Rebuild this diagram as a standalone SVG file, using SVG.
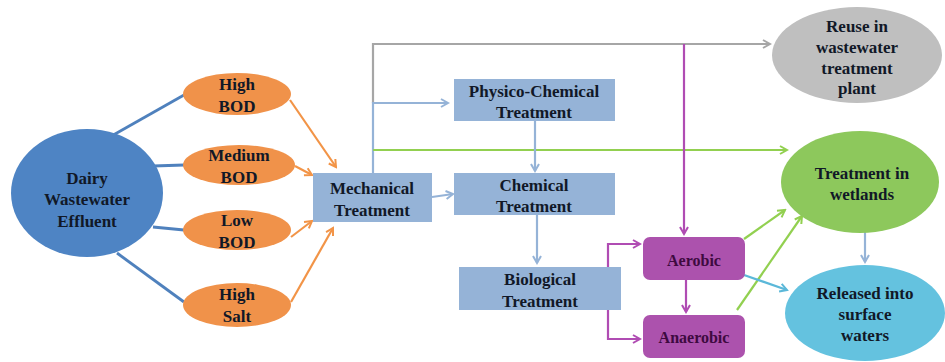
<svg xmlns="http://www.w3.org/2000/svg" width="945" height="362" viewBox="0 0 945 362">
<style>
text{font-family:"Liberation Serif","Times New Roman",serif;font-weight:bold;font-size:17px;fill:#111827;text-anchor:middle}
.c{fill:none;stroke-width:2.2}
.db{stroke:#4F81BD;stroke-width:2.8}
.or{stroke:#F29447}
.lb{stroke:#95B3D7}
.gr{stroke:#A6A6A6}
.gn{stroke:#92D050}
.pu{stroke:#B04CB3}
.cy{stroke:#5BB8D9}
.rect{fill:#95B3D7}
.prp{fill:#AC52AD}
.pt{fill:#3E0A40;font-size:16px}
</style>
<defs>
<marker id="mo" markerWidth="10" markerHeight="10" refX="8" refY="5" orient="auto" markerUnits="userSpaceOnUse"><polyline points="1,1 8,5 1,9" fill="none" stroke="#F29447" stroke-width="2"/></marker>
<marker id="mb" markerWidth="10" markerHeight="10" refX="8" refY="5" orient="auto" markerUnits="userSpaceOnUse"><polyline points="1,1 8,5 1,9" fill="none" stroke="#95B3D7" stroke-width="2"/></marker>
<marker id="mg" markerWidth="10" markerHeight="10" refX="8" refY="5" orient="auto" markerUnits="userSpaceOnUse"><polyline points="1,1 8,5 1,9" fill="none" stroke="#A6A6A6" stroke-width="2"/></marker>
<marker id="mn" markerWidth="10" markerHeight="10" refX="8" refY="5" orient="auto" markerUnits="userSpaceOnUse"><polyline points="1,1 8,5 1,9" fill="none" stroke="#92D050" stroke-width="2"/></marker>
<marker id="mp" markerWidth="10" markerHeight="10" refX="8" refY="5" orient="auto" markerUnits="userSpaceOnUse"><polyline points="1,1 8,5 1,9" fill="none" stroke="#B04CB3" stroke-width="2"/></marker>
<marker id="mc" markerWidth="10" markerHeight="10" refX="8" refY="5" orient="auto" markerUnits="userSpaceOnUse"><polyline points="1,1 8,5 1,9" fill="none" stroke="#5BB8D9" stroke-width="2"/></marker>
</defs>
<rect width="945" height="362" fill="#ffffff"/>
<g id="connectors">
<line class="c db" x1="108" y1="138" x2="184" y2="95"/>
<line class="c db" x1="153" y1="166" x2="184" y2="165"/>
<line class="c db" x1="153" y1="227" x2="184" y2="230"/>
<line class="c db" x1="117" y1="253" x2="184" y2="302"/>
<line class="c or" x1="290" y1="100" x2="336" y2="167" marker-end="url(#mo)"/>
<line class="c or" x1="295" y1="166" x2="312" y2="175" marker-end="url(#mo)"/>
<line class="c or" x1="291" y1="237" x2="312" y2="221" marker-end="url(#mo)"/>
<line class="c or" x1="291" y1="302" x2="333" y2="228" marker-end="url(#mo)"/>
<polyline class="c gr" points="373,103 373,44 770,44" marker-end="url(#mg)"/>
<polyline class="c lb" points="373,173 373,103 448,103" marker-end="url(#mb)"/>
<line class="c gn" x1="373" y1="150" x2="787" y2="150" marker-end="url(#mn)"/>
<line class="c lb" x1="432" y1="197" x2="453" y2="194" marker-end="url(#mb)"/>
<line class="c lb" x1="535" y1="121" x2="535" y2="171" marker-end="url(#mb)"/>
<line class="c lb" x1="537" y1="215" x2="537" y2="263" marker-end="url(#mb)"/>
<line class="c pu" x1="684" y1="44" x2="684" y2="234" marker-end="url(#mp)"/>
<line class="c pu" x1="686" y1="280" x2="686" y2="312" marker-end="url(#mp)"/>
<polyline class="c pu" points="608,267 608,244 640,244" marker-end="url(#mp)"/>
<polyline class="c pu" points="608,310 608,339 640,339" marker-end="url(#mp)"/>
<line class="c gn" x1="744" y1="239" x2="785" y2="210" marker-end="url(#mn)"/>
<line class="c gn" x1="737" y1="310" x2="802" y2="216" marker-end="url(#mn)"/>
<line class="c cy" x1="744" y1="275" x2="787" y2="290" marker-end="url(#mc)"/>
<line class="c lb" x1="865" y1="228" x2="865" y2="262" marker-end="url(#mb)"/>
</g>
<g id="dairy"><ellipse cx="87" cy="193" rx="76" ry="64" fill="#4E84C4"/><text x="87" y="184">Dairy</text><text x="87" y="205">Wastewater</text><text x="87" y="227">Effluent</text></g>
<g id="highbod"><ellipse cx="237" cy="94" rx="54" ry="21" fill="#F0924A"/><text x="237" y="90">High</text><text x="237" y="112">BOD</text></g>
<g id="medbod"><ellipse cx="239" cy="165" rx="56" ry="20" fill="#F0924A"/><text x="239" y="161">Medium</text><text x="239" y="183">BOD</text></g>
<g id="lowbod"><ellipse cx="237" cy="230" rx="54" ry="20" fill="#F0924A"/><text x="237" y="226">Low</text><text x="237" y="248">BOD</text></g>
<g id="highsalt"><ellipse cx="237" cy="305" rx="54" ry="22" fill="#F0924A"/><text x="237" y="300">High</text><text x="237" y="322">Salt</text></g>
<g id="mechanical"><rect class="rect" x="313" y="173" width="119" height="49"/><text x="372" y="194">Mechanical</text><text x="372" y="216">Treatment</text></g>
<g id="physico"><rect class="rect" x="454" y="79" width="161" height="42"/><text x="534" y="97">Physico-Chemical</text><text x="534" y="118">Treatment</text></g>
<g id="chemical"><rect class="rect" x="454" y="173" width="161" height="42"/><text x="534" y="191">Chemical</text><text x="534" y="212">Treatment</text></g>
<g id="biological"><rect class="rect" x="459" y="267" width="162" height="43"/><text x="540" y="285">Biological</text><text x="540" y="307">Treatment</text></g>
<g id="aerobic"><rect class="prp" x="643" y="237" width="102" height="43" rx="7"/><text class="pt" x="694" y="266">Aerobic</text></g>
<g id="anaerobic"><rect class="prp" x="643" y="315" width="102" height="43" rx="7"/><text class="pt" x="694" y="343">Anaerobic</text></g>
<g id="reuse"><ellipse cx="857" cy="55" rx="85" ry="48" fill="#BFBFBF"/><text x="857" y="32">Reuse in</text><text x="857" y="53">wastewater</text><text x="857" y="74">treatment</text><text x="857" y="94">plant</text></g>
<g id="wetlands"><ellipse cx="860" cy="182" rx="79" ry="51" fill="#8DC85C"/><text x="862" y="179">Treatment in</text><text x="862" y="200">wetlands</text></g>
<g id="released"><ellipse cx="865" cy="313" rx="80" ry="48" fill="#64C2DF"/><text x="865" y="299">Released into</text><text x="865" y="320">surface</text><text x="865" y="341">waters</text></g>
</svg>
